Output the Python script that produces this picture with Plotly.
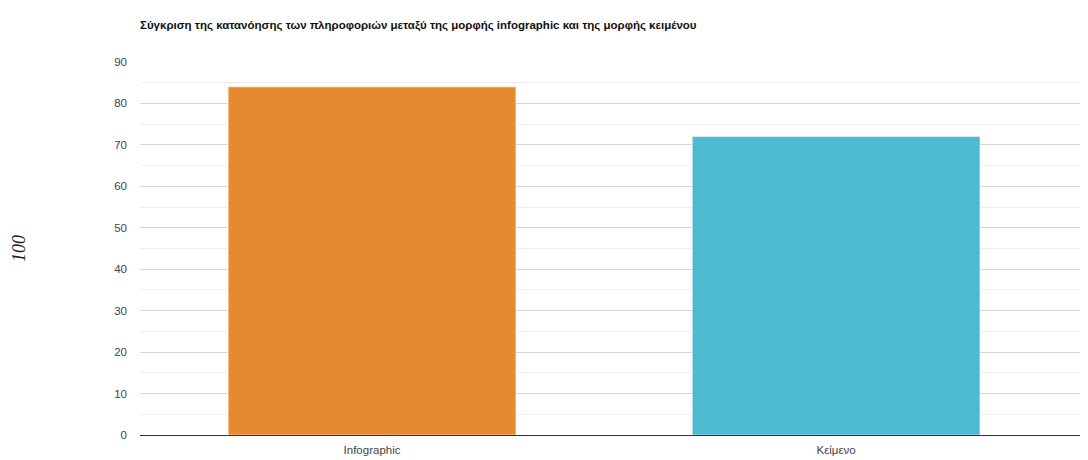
import plotly.graph_objects as go

categories = ["Infographic", "Κείμενο"]
values = [84, 72]
colors = ["#E58A2F", "#4CBBD1"]
y_ticks = [0, 10, 20, 30, 40, 50, 60, 70, 80, 90]
title_text = "Σύγκριση της κατανόησης των πληροφοριών μεταξύ της μορφής infographic και της μορφής κειμένου"
y_label = "100"

FONT = "Liberation Sans Narrow, Arial Narrow, Liberation Sans, Arial, sans-serif"

fig = go.Figure()
fig.add_trace(go.Bar(
    x=categories, y=values,
    marker=dict(color=colors, line=dict(color="rgba(255,255,255,0.5)", width=1)),
    width=0.62,
    hoverinfo="x+y",
))

fig.update_layout(
    width=1088, height=460,
    margin=dict(l=132, r=0, t=54, b=33),
    paper_bgcolor="white", plot_bgcolor="white",
    showlegend=False,
    font=dict(family=FONT, size=11, color="#444"),
    title=dict(text=title_text, x=132/1088, xanchor="left", y=1-17/460, yanchor="middle",
               font=dict(family=FONT, size=11.5, color="#111", weight="bold")),
)
fig.update_xaxes(
    type="category", range=[-0.5, 1.560],
    showgrid=False, showline=False, ticks="",
    ticklabelstandoff=6,
    tickfont=dict(family=FONT, size=11.5, color="#444"),
)
fig.update_yaxes(
    range=[0, 90], tickvals=y_ticks,
    showgrid=True, gridcolor="#d6d6d6", gridwidth=1,
    minor=dict(dtick=5, showgrid=True, gridcolor="#efefef", gridwidth=1),
    zeroline=True, zerolinecolor="#333", zerolinewidth=1,
    showline=False, ticks="", ticklabelstandoff=12,
    tickfont=dict(family=FONT, size=11.5, color="#444"),
)
fig.add_annotation(
    text=y_label, xref="paper", yref="paper",
    x=-(140-19)/956, y=(435-248)/373, xanchor="center", yanchor="middle",
    textangle=-90, showarrow=False,
    font=dict(family="Liberation Serif, Times New Roman, serif", size=18, color="#222",
              style="italic"),
)
fig.write_html("out.html")
